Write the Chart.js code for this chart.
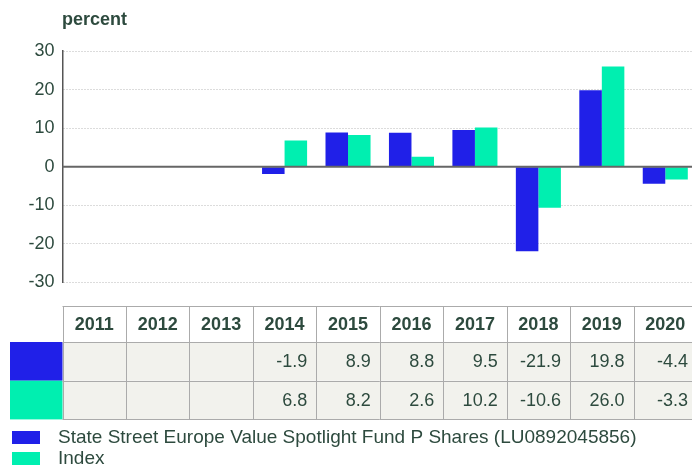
<!DOCTYPE html>
<html>
<head>
<meta charset="utf-8">
<script src="https://cdn.jsdelivr.net/npm/chart.js@4"></script>
<style>
  html, body { margin: 0; padding: 0; background: #fff; overflow: hidden; }
  #wrap { width: 692px; height: 466px; overflow: hidden; }
</style>
</head>
<body>
<div id="wrap"><canvas id="perfChart" width="697" height="466"></canvas></div>
<script>
var years = ['2011', '2012', '2013', '2014', '2015', '2016', '2017', '2018', '2019', '2020'];
var fundValues = [null, null, null, -1.9, 8.9, 8.8, 9.5, -21.9, 19.8, -4.4];
var indexValues = [null, null, null, 6.8, 8.2, 2.6, 10.2, -10.6, 26.0, -3.3];
var seriesNames = ['State Street Europe Value Spotlight Fund P Shares (LU0892045856)', 'Index'];
var seriesColors = ['#2020e8', '#00efb0'];

var textColor = '#2d4a3e';
var fontFamily = '"Liberation Sans", Arial, sans-serif';

// solid zero line on top of the bars
var zeroLine = {
    id: 'zeroLine',
    afterDatasetsDraw: function (chart) {
        var c = chart.ctx;
        var area = chart.chartArea;
        var y = chart.scales.y.getPixelForValue(0);
        c.save();
        c.strokeStyle = '#666666';
        c.lineWidth = 2;
        c.beginPath();
        c.moveTo(area.left, y);
        c.lineTo(area.right, y);
        c.stroke();
        c.restore();
    }
};

// table + legend + "percent" label drawn under the plot
var tablePlugin = {
    id: 'tablePlugin',
    afterDraw: function (chart) {
        var c = chart.ctx;
        var area = chart.chartArea;
        var xs = chart.scales.x;
        var colW = (area.right - area.left) / years.length;
        var top = 306, headH = 36, rowH = 38.7;
        var left = area.left;
        var rows = [fundValues, indexValues];

        c.save();
        // title
        c.fillStyle = textColor;
        c.font = 'bold 18px ' + fontFamily;
        c.textAlign = 'left';
        c.textBaseline = 'middle';
        c.fillText('percent', 62, 20);

        // row backgrounds and swatches
        for (var r = 0; r < rows.length; r++) {
            var y0 = top + headH + r * rowH;
            c.fillStyle = '#f2f2ed';
            c.fillRect(left, y0, area.right - left, rowH);
            c.fillStyle = seriesColors[r];
            c.fillRect(10, y0, left - 10, rowH);
        }

        // borders
        c.strokeStyle = '#ababab';
        c.lineWidth = 1;
        c.beginPath();
        for (var k = 0; k <= 3; k++) {
            var yy = Math.round(top + (k === 0 ? 0 : headH + (k - 1) * rowH)) + 0.5;
            c.moveTo(left, yy);
            c.lineTo(area.right, yy);
        }
        for (var i = 0; i <= years.length; i++) {
            var xx = Math.round(left + i * colW) + 0.5;
            c.moveTo(xx, top);
            c.lineTo(xx, top + headH + 2 * rowH);
        }
        c.stroke();

        // header text
        c.fillStyle = textColor;
        c.font = 'bold 18px ' + fontFamily;
        c.textAlign = 'center';
        for (var j = 0; j < years.length; j++) {
            c.fillText(years[j], xs.getPixelForValue(j), top + headH / 2 + 1);
        }

        // values
        c.font = '18px ' + fontFamily;
        c.textAlign = 'right';
        for (r = 0; r < rows.length; r++) {
            for (j = 0; j < years.length; j++) {
                var v = rows[r][j];
                if (v === null) continue;
                var cellRight = left + (j + 1) * colW;
                c.fillText(v.toFixed(1), cellRight - 9, top + headH + r * rowH + rowH / 2 + 1);
            }
        }

        // legend
        c.font = '19px ' + fontFamily;
        c.textAlign = 'left';
        for (r = 0; r < seriesNames.length; r++) {
            var ly = 431 + r * 21;
            c.fillStyle = seriesColors[r];
            c.fillRect(12, ly, 28, 13);
            c.fillStyle = textColor;
            c.fillText(seriesNames[r], 58, ly + 7);
        }
        c.restore();
    }
};

var ctx = document.getElementById('perfChart');
var myChart = new Chart(ctx, {
    type: 'bar',
    data: {
        labels: years,
        datasets: [{
            label: seriesNames[0],
            data: fundValues,
            backgroundColor: seriesColors[0]
        }, {
            label: seriesNames[1],
            data: indexValues,
            backgroundColor: seriesColors[1]
        }]
    },
    options: {
        responsive: false,
        animation: false,
        layout: {
            padding: { top: 51, bottom: 183.5, left: 0, right: 0 }
        },
        datasets: {
            bar: { categoryPercentage: 0.71, barPercentage: 1.0 }
        },
        plugins: {
            legend: { display: false },
            tooltip: { enabled: false },
            title: { display: false }
        },
        scales: {
            x: {
                display: false
            },
            y: {
                min: -30,
                max: 30,
                afterFit: function (scale) { scale.width = 62.5; },
                ticks: {
                    stepSize: 10,
                    padding: 8,
                    color: textColor,
                    font: { family: fontFamily, size: 18 }
                },
                border: { display: true, color: '#555555', width: 1.5, dash: [1, 2] },
                grid: {
                    drawTicks: false,
                    color: function (c) { return c.tick.value === 0 ? 'rgba(0,0,0,0)' : '#b8b8b8'; },
                    lineWidth: 1
                }
            }
        }
    },
    plugins: [zeroLine, tablePlugin]
});
</script>
</body>
</html>
